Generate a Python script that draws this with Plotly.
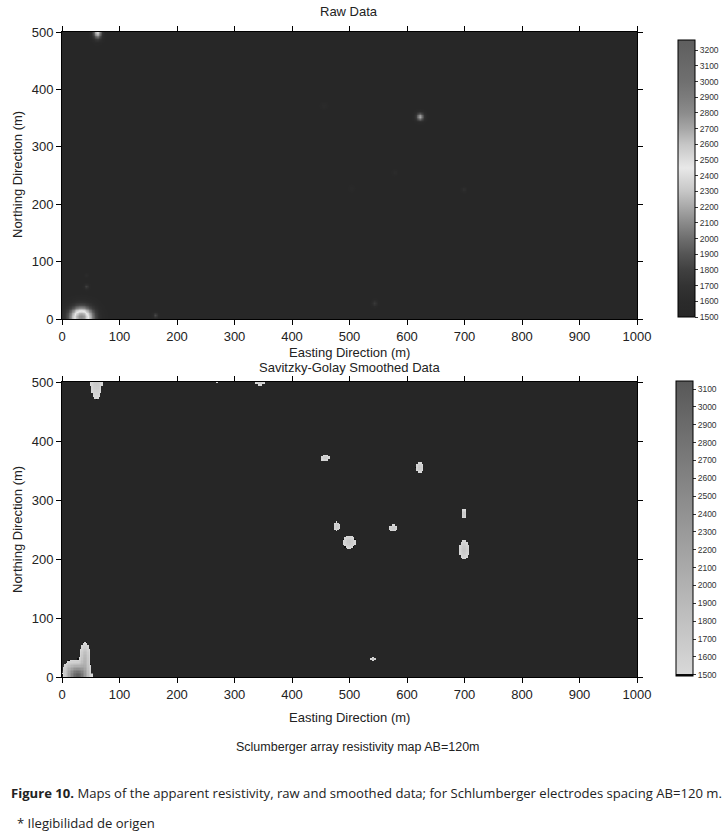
import numpy as np
import plotly.graph_objects as go

W, H = 725, 834

# ---------------- data ----------------
# grid (m)
EASTING_MAX = 1000
NORTHING_MAX = 500
GRID_STEP = 2.5

# Raw data: background and local anomalies (ohm-m)
RAW_BACKGROUND = 1500
RAW_E = [33, 42, 42, 61, 162, 543, 622, 455, 578, 698, 503]
RAW_N = [4, 57, 77, 500, 7, 28, 353, 372, 256, 226, 228]
RAW_SE = [15, 3, 2.5, 5.5, 3, 3.5, 5, 4, 3, 3, 4]
RAW_SN = [13, 3, 2.5, 8, 3, 3.5, 5, 4, 3, 3, 4]
RAW_AMP = [1300, 300, 100, 850, 350, 250, 700, 80, 100, 150, 60]

# Savitzky-Golay smoothed data: background (below colour range) and anomalies
SG_BACKGROUND = 1400
SG_E = [28, 40, 14, 60, 345, 270, 458, 622, 478, 576, 500, 700, 700, 542]
SG_N = [0, 30, 8, 505, 502, 501, 371, 355, 255, 252, 228, 276, 215, 30]
SG_SE = [10.5, 5, 8, 7, 6.5, 3, 5.2, 4.6, 3.3, 5.2, 7.2, 3.3, 5.9, 3.3]
SG_SN = [12, 16, 11, 23, 5, 2, 3.3, 5.9, 5.2, 3.9, 7.2, 5.2, 10.5, 2]
SG_AMP = [1600, 500, 300, 320, 320, 150, 320, 320, 320, 320, 320, 320, 320, 320]
SG_CUTOFF = 1500

RAW_TICKS = list(range(1500, 3201, 100))
SG_TICKS = list(range(1500, 3101, 100))
X_TICKS = list(range(0, 1001, 100))
Y_TICKS = list(range(0, 501, 100))

# ---------------- build grids from anomalies ----------------
xs = np.arange(0, EASTING_MAX + GRID_STEP / 2, GRID_STEP)
ys = np.arange(0, NORTHING_MAX + GRID_STEP / 2, GRID_STEP)
X, Y = np.meshgrid(xs, ys)


def field(bg, E, N, SE, SN, A):
    z = np.full(X.shape, float(bg))
    for e, n, se, sn, a in zip(E, N, SE, SN, A):
        z += a * np.exp(-((X - e) ** 2 / (2 * se ** 2) + (Y - n) ** 2 / (2 * sn ** 2)))
    return z


z_raw = field(RAW_BACKGROUND, RAW_E, RAW_N, RAW_SE, RAW_SN, RAW_AMP)
z_sg = field(SG_BACKGROUND, SG_E, SG_N, SG_SE, SG_SN, SG_AMP)
z_sg = np.where(z_sg < SG_CUTOFF, np.nan, z_sg)

# ---------------- colours ----------------
raw_min, raw_max = 1500, 3265
raw_stops = [(1500, '#272727'), (1600, '#2b2b2b'), (1700, '#333333'), (1800, '#404040'),
             (1900, '#555555'), (2000, '#6e6e6e'), (2100, '#8a8a8a'), (2200, '#a8a8a8'),
             (2300, '#c6c6c6'), (2450, '#e8e8e8'), (2600, '#c6c6c6'), (2700, '#a6a6a6'),
             (2800, '#8c8c8c'), (2900, '#7c7c7c'), (3000, '#707070'), (3265, '#5e5e5e')]
raw_cs = [[(v - raw_min) / (raw_max - raw_min), c] for v, c in raw_stops]

sg_min, sg_max = 1493, 3145
f = (1502 - sg_min) / (sg_max - sg_min)
sg_cs = [[0, '#0c0c0c'], [f, '#0c0c0c'], [f + 0.001, '#d8d8d8'], [1, '#585858']]

PLOT_BG = '#262626'
FONT = 'Liberation Sans, Arial, sans-serif'


def px(x):
    return x / W


def py(y):
    return 1 - y / H


fig = go.Figure()

fig.add_trace(go.Heatmap(
    x=xs, y=ys, z=z_raw, zmin=raw_min, zmax=raw_max, colorscale=raw_cs,
    zsmooth='best', xaxis='x', yaxis='y', hoverinfo='skip',
    colorbar=dict(x=px(678), xanchor='left', y=py((40 + 317) / 2), yanchor='middle',
                  len=(317 - 40) / H, lenmode='fraction', thickness=17,
                  outlinecolor='black', outlinewidth=1, xpad=0, ypad=0,
                  tickvals=RAW_TICKS, ticks='outside', ticklen=3, tickcolor='#333',
                  tickfont=dict(family=FONT, size=8.5, color='#333'))))

fig.add_trace(go.Heatmap(
    x=xs, y=ys, z=z_sg, zmin=sg_min, zmax=sg_max, colorscale=sg_cs,
    zsmooth=False, xaxis='x2', yaxis='y2', hoverinfo='skip',
    colorbar=dict(x=px(676), xanchor='left', y=py((381 + 676) / 2), yanchor='middle',
                  len=(676 - 381) / H, lenmode='fraction', thickness=17,
                  outlinecolor='black', outlinewidth=1, xpad=0, ypad=0,
                  tickvals=SG_TICKS, ticks='outside', ticklen=3, tickcolor='#333',
                  tickfont=dict(family=FONT, size=8.5, color='#333'))))

axis_common = dict(showline=True, linecolor='black', linewidth=1, mirror='ticks',
                   ticks='outside', ticklen=5, tickcolor='black', showgrid=False,
                   zeroline=False, automargin=False,
                   tickfont=dict(family=FONT, size=13, color='#222'))

fig.update_layout(
    width=W, height=H, margin=dict(l=0, r=0, t=0, b=0, autoexpand=False),
    paper_bgcolor='white', plot_bgcolor=PLOT_BG, showlegend=False,
    xaxis=dict(domain=[px(62), px(637)], range=[0, 1000], tickvals=X_TICKS,
               anchor='y', **axis_common),
    yaxis=dict(domain=[py(319), py(32)], range=[0, 500], tickvals=Y_TICKS,
               anchor='x', **axis_common),
    xaxis2=dict(domain=[px(62), px(637)], range=[0, 1000], tickvals=X_TICKS,
                anchor='y2', **axis_common),
    yaxis2=dict(domain=[py(677), py(382)], range=[0, 500], tickvals=Y_TICKS,
                anchor='x2', **axis_common),
)

ann = []


def add_text(text, x, y, size=13, family=FONT, color='#222', xanchor='center', angle=0):
    ann.append(dict(text=text, x=px(x), y=py(y), xref='paper', yref='paper',
                    xanchor=xanchor, yanchor='middle', showarrow=False, textangle=angle,
                    font=dict(family=family, size=size, color=color)))


add_text('Raw Data', 349, 11)
add_text('Easting Direction (m)', 349, 352)
add_text('Savitzky-Golay Smoothed Data', 349, 368)
add_text('Northing Direction (m)', 17, 175, angle=-90)
add_text('Northing Direction (m)', 17, 530, angle=-90)
add_text('Easting Direction (m)', 349, 717)
add_text('Sclumberger array resistivity map AB=120m', 358, 747, size=12.5)
add_text('<b>Figure 10.</b> Maps of the apparent resistivity, raw and smoothed data; '
         'for Schlumberger electrodes spacing AB=120 m.',
         9, 793, size=13.1, family='Open Sans, sans-serif', color='#222', xanchor='left')
add_text('* Ilegibilidad de origen', 15, 823, size=13.1, family='Open Sans, sans-serif',
         color='#222', xanchor='left')

fig.update_layout(annotations=ann)

fig.write_html('out.html', config={'displayModeBar': False},
               post_script="document.body.style.margin='0';"
                           "document.body.style.overflow='hidden';")
